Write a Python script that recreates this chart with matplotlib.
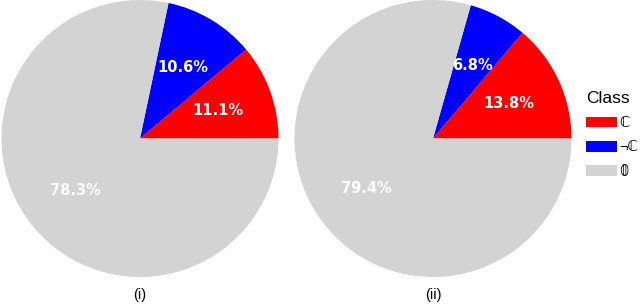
import matplotlib
matplotlib.use("Agg")
import matplotlib.pyplot as plt
from matplotlib.patches import Patch

classes = ["ℂ", "¬ℂ", "𝟘"]
colors = ["#FF0000", "#0000FF", "#D3D3D3"]
pie_i = [11.1, 10.6, 78.3]
pie_ii = [13.8, 6.8, 79.4]
panel_labels = ["(i)", "(ii)"]

fig = plt.figure(figsize=(6.4, 3.08), dpi=100)

def draw(ax, vals, label):
    wedges, texts, autotexts = ax.pie(
        vals, colors=colors, startangle=0, counterclock=True,
        autopct="%.1f%%", pctdistance=0.6, radius=1,
        textprops=dict(color="white", fontweight="bold", fontsize=10.5,
                       family="DejaVu Sans"))
    ax.set_xlim(-1, 1)
    ax.set_ylim(-1, 1)
    ax.set_aspect("equal")
    ax.text(0, -1.13, label, ha="center", va="center", fontsize=10.5,
            family="Liberation Sans", color="black")

ax1 = fig.add_axes([1/640, 31/308, 278/640, 277/308])
draw(ax1, pie_i, panel_labels[0])
ax2 = fig.add_axes([294/640, 31/308, 278/640, 277/308])
draw(ax2, pie_ii, panel_labels[1])

handles = [Patch(facecolor=c, edgecolor="none") for c in colors]
leg = fig.legend(handles, classes, title="Class", loc="upper left",
                 bbox_to_anchor=(586/640, 1 - 91/308), frameon=False,
                 title_fontsize=12.5, handlelength=2.1,
                 handleheight=0.75, labelspacing=0.7, handletextpad=0.2,
                 borderaxespad=0, borderpad=0,
                 prop=dict(family=["Liberation Sans", "DejaVu Sans"], size=10.5))
leg.get_title().set_family("Liberation Sans")
leg._legend_box.align = "left"

fig.savefig("out.png", dpi=100)
